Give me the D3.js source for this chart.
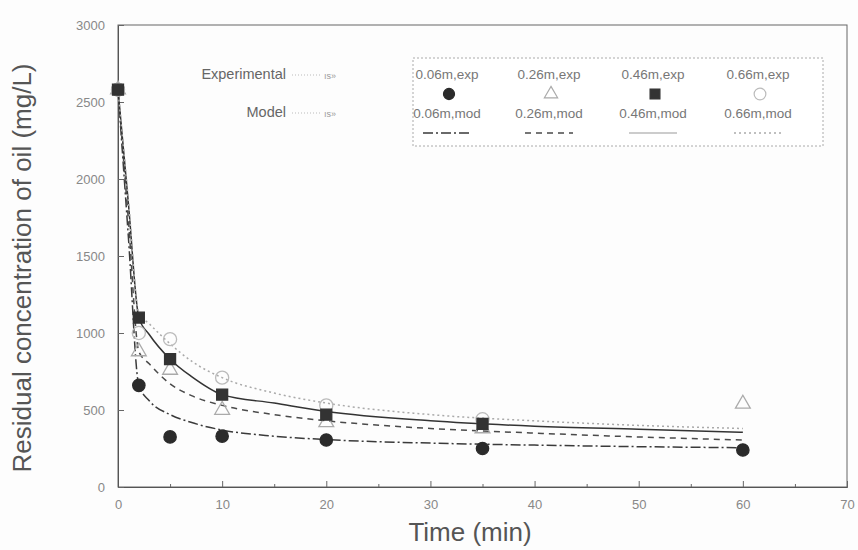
<!DOCTYPE html>
<html>
<head>
<meta charset="utf-8">
<script src="https://cdn.jsdelivr.net/npm/d3@7"></script>
<style>
  body { margin: 0; background: #fdfdfd; }
  text { font-family: "Liberation Sans", Arial, sans-serif; }
</style>
</head>
<body>
<svg id="chart"></svg>
<script>
let width = 858;
let height = 550;
let margin = {top: 25, right: 11, bottom: 63, left: 118};

// experimental data
let expTimes = [0, 2, 5, 10, 20, 35, 60];
let exp06 = [2580, 660, 325, 330, 305, 250, 240];
let exp26 = [2580, 880, 760, 500, 420, 380, 540];
let exp46 = [2580, 1100, 830, 600, 470, 410, null];
let exp66 = [2580, 1000, 960, 710, 530, 440, null];

// model curves
let modTimes = [0, 1, 2, 3, 5, 7, 10, 15, 20, 30, 40, 50, 60];
let mod06 = [2580, 1620, 660, 560, 470, 420, 370, 330, 308, 285, 272, 262, 255];
let mod26 = [2580, 1730, 880, 800, 670, 595, 530, 470, 430, 380, 350, 325, 305];
let mod46 = [2580, 1840, 1100, 990, 830, 720, 600, 545, 490, 430, 395, 375, 355];
let mod66 = [2580, 1860, 1130, 1060, 930, 820, 710, 610, 545, 470, 430, 400, 380];

let xTicks = [0, 10, 20, 30, 40, 50, 60, 70];
let yTicks = [0, 500, 1000, 1500, 2000, 2500, 3000];
let expLabels = ["0.06m,exp", "0.26m,exp", "0.46m,exp", "0.66m,exp"];
let modLabels = ["0.06m,mod", "0.26m,mod", "0.46m,mod", "0.66m,mod"];

let svg = d3.select("#chart")
    .attr("width", width)
    .attr("height", height);

let x = d3.scaleLinear().domain([0, 70]).range([margin.left, width - margin.right]);
let y = d3.scaleLinear().domain([0, 3000]).range([height - margin.bottom, margin.top]);

// frame
svg.append("rect")
    .attr("x", x(0)).attr("y", y(3000))
    .attr("width", x(70) - x(0)).attr("height", y(0) - y(3000))
    .style("fill", "none").style("stroke", "#666").style("stroke-width", 1);

// minor x ticks
let x_minor = svg.append("g")
    .attr("transform", `translate(0,${y(0)})`)
    .call(d3.axisBottom(x).tickValues(d3.range(5, 70, 10)).tickSize(-3).tickFormat(""));
x_minor.select(".domain").remove();

let x_axis = svg.append("g")
    .attr("transform", `translate(0,${y(0)})`)
    .call(d3.axisBottom(x).tickValues(xTicks).tickSize(-6).tickPadding(13).tickFormat(d3.format("d")));
let y_axis = svg.append("g")
    .attr("transform", `translate(${x(0)},0)`)
    .call(d3.axisLeft(y).tickValues(yTicks).tickSize(-6).tickPadding(13).tickFormat(d3.format("d")));

[x_axis, y_axis, x_minor].forEach(function(a) {
    a.select(".domain").style("stroke", "#555");
    a.selectAll("line").style("stroke", "#666");
    a.selectAll("text")
        .style("font-size", "13px")
        .style("fill", "#888");
});

// axis titles
svg.append("text")
    .attr("transform", `translate(470,541)`)
    .style("text-anchor", "middle")
    .style("font-size", "26px")
    .style("fill", "#555")
    .text("Time (min)");

svg.append("text")
    .attr("transform", `translate(31,${(y(0) + y(3000)) / 2 + 12}) rotate(-90)`)
    .style("text-anchor", "middle")
    .style("font-size", "26px")
    .style("fill", "#555")
    .text("Residual concentration of oil (mg/L)");

// model lines
let lineStyles = [
    {stroke: "#3a3a3a", dash: "10,3,2,3"},
    {stroke: "#4a4a4a", dash: "6,5"},
    {stroke: "#333", dash: null},
    {stroke: "#aaa", dash: "2,3"}
];
let modSeries = [mod06, mod26, mod46, mod66];

let line = d3.line()
    .x(d => x(d.t))
    .y(d => y(d.v))
    .curve(d3.curveMonotoneX);

modSeries.forEach(function(s, i) {
    let pts = s.map((v, j) => ({t: modTimes[j], v: v}));
    svg.append("path")
        .datum(pts)
        .attr("d", line)
        .style("fill", "none")
        .style("stroke", lineStyles[i].stroke)
        .style("stroke-width", 1.5)
        .style("stroke-dasharray", lineStyles[i].dash);
});

// markers
let markerStyles = [
    {type: d3.symbolCircle, size: 120, fill: "#2b2b2b", stroke: "#2b2b2b"},
    {type: d3.symbolTriangle, size: 95, fill: "none", stroke: "#aaa"},
    {type: d3.symbolSquare, size: 121, fill: "#333", stroke: "#333"},
    {type: d3.symbolCircle, size: 135, fill: "none", stroke: "#bbb"}
];
let expSeries = [exp06, exp26, exp66, exp46];
let expOrder = [0, 1, 3, 2];

expSeries.forEach(function(s, k) {
    let st = markerStyles[expOrder[k]];
    let pts = s.map((v, j) => ({t: expTimes[j], v: v})).filter(d => d.v != null);
    svg.append("g").selectAll("path")
        .data(pts)
        .join("path")
        .attr("transform", d => `translate(${x(d.t)},${y(d.v)})`)
        .attr("d", d3.symbol().type(st.type).size(st.size))
        .style("fill", st.fill)
        .style("stroke", st.stroke)
        .style("stroke-width", 1.3);
});

// legend
let legend = svg.append("g");
legend.append("rect")
    .attr("x", 413).attr("y", 58).attr("width", 410).attr("height", 88)
    .style("fill", "#fff").style("stroke", "#aaa")
    .style("stroke-dasharray", "2,2");

let colX = [447, 549, 653, 758];
colX.forEach(function(cx, i) {
    legend.append("text")
        .attr("x", cx).attr("y", 79)
        .style("text-anchor", "middle")
        .style("font-size", "13.5px")
        .style("fill", "#777")
        .text(expLabels[i]);
    let st = markerStyles[i];
    legend.append("path")
        .attr("transform", `translate(${cx + 2},94)`)
        .attr("d", d3.symbol().type(st.type).size(st.size * 0.8))
        .style("fill", st.fill)
        .style("stroke", st.stroke)
        .style("stroke-width", 1.2);
    legend.append("text")
        .attr("x", cx).attr("y", 118)
        .style("text-anchor", "middle")
        .style("font-size", "13.5px")
        .style("fill", "#777")
        .text(modLabels[i]);
    legend.append("line")
        .attr("x1", cx - 24).attr("x2", cx + 24)
        .attr("y1", 133).attr("y2", 133)
        .style("stroke", i == 2 ? "#bbb" : lineStyles[i].stroke)
        .style("stroke-width", 1.3)
        .style("stroke-dasharray", lineStyles[i].dash);
});

// side labels
[["Experimental", 79], ["Model", 117]].forEach(function(r) {
    svg.append("text")
        .attr("x", 286).attr("y", r[1])
        .style("text-anchor", "end")
        .style("font-size", "14.5px")
        .style("fill", "#666")
        .text(r[0]);
    svg.append("line")
        .attr("x1", 292).attr("x2", 322)
        .attr("y1", r[1] - 4).attr("y2", r[1] - 4)
        .style("stroke", "#bbb")
        .style("stroke-dasharray", "1,2");
    svg.append("text")
        .attr("x", 324).attr("y", r[1])
        .style("font-size", "9px")
        .style("fill", "#999")
        .text("ıs»");
});
</script>
</body>
</html>
